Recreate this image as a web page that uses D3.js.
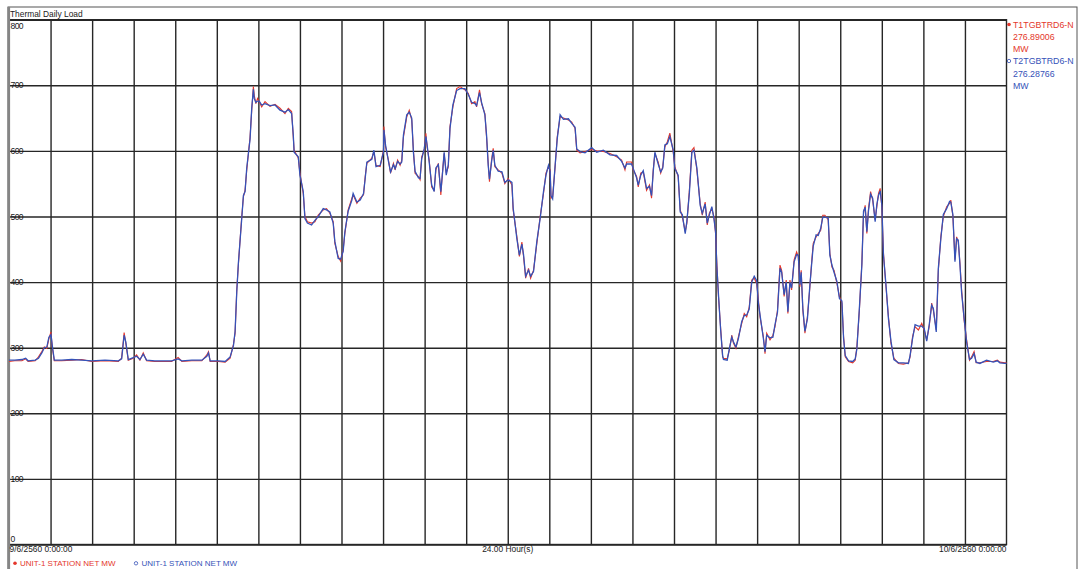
<!DOCTYPE html>
<html>
<head>
<meta charset="utf-8">
<script src="https://cdn.jsdelivr.net/npm/d3@7"></script>
<style>
  body { margin: 0; background: #fff; }
  svg { display: block; font-family: "Liberation Sans", Arial, sans-serif; }
</style>
</head>
<body>
<svg id="chart" width="1078" height="569"></svg>
<script>
// time of each sample, hours after 9/6/2560 0:00:00
var hours = [
  0.00,0.14,0.31,0.40,0.46,0.63,0.71,0.79,0.85,0.91,
  0.96,1.01,1.04,1.09,1.27,1.51,1.75,1.99,2.31,2.63,
  2.71,2.77,2.81,2.87,2.99,3.07,3.15,3.23,3.31,3.51,
  3.91,4.07,4.16,4.40,4.64,4.76,4.80,4.84,5.04,5.20,
  5.32,5.40,5.44,5.48,5.52,5.60,5.64,5.68,5.72,5.80,
  5.84,5.88,5.90,5.94,5.98,6.02,6.08,6.16,6.28,6.40,
  6.52,6.64,6.72,6.80,6.84,6.86,6.96,7.00,7.08,7.12,
  7.18,7.28,7.36,7.44,7.56,7.64,7.72,7.80,7.84,7.92,
  7.98,8.04,8.08,8.16,8.25,8.28,8.37,8.45,8.53,8.57,
  8.61,8.73,8.78,8.83,8.93,9.01,9.02,9.06,9.13,9.18,
  9.25,9.29,9.35,9.41,9.45,9.49,9.57,9.63,9.69,9.73,
  9.77,9.85,9.89,9.93,9.99,10.03,10.06,10.11,10.17,10.23,
  10.27,10.33,10.39,10.44,10.47,10.52,10.57,10.61,10.68,10.77,
  10.85,10.97,11.05,11.13,11.21,11.25,11.32,11.37,11.45,11.49,
  11.53,11.56,11.61,11.65,11.69,11.77,11.86,11.93,12.01,12.10,
  12.13,12.22,12.28,12.34,12.38,12.43,12.50,12.55,12.62,12.70,
  12.78,12.86,12.92,12.98,13.02,13.04,13.08,13.14,13.19,13.26,
  13.34,13.46,13.54,13.62,13.66,13.74,13.86,14.02,14.14,14.30,
  14.46,14.62,14.74,14.82,14.86,14.98,15.02,15.10,15.14,15.20,
  15.26,15.34,15.41,15.46,15.50,15.54,15.62,15.68,15.73,15.78,
  15.84,15.90,15.98,16.02,16.10,16.15,16.20,16.27,16.31,16.37,
  16.43,16.48,16.55,16.63,16.68,16.75,16.80,16.85,16.91,16.96,
  17.00,17.03,17.07,17.12,17.17,17.19,17.28,17.33,17.39,17.43,
  17.49,17.55,17.63,17.69,17.75,17.81,17.87,17.93,17.99,18.03,
  18.07,18.15,18.19,18.23,18.31,18.38,18.43,18.49,18.55,18.59,
  18.65,18.70,18.74,18.79,18.83,18.89,18.95,18.99,19.03,19.06,
  19.10,19.15,19.21,19.27,19.31,19.35,19.42,19.47,19.53,19.58,
  19.63,19.71,19.75,19.80,19.85,19.92,19.98,20.04,20.08,20.12,
  20.20,20.30,20.36,20.40,20.46,20.52,20.56,20.60,20.64,20.68,
  20.73,20.78,20.84,20.88,20.92,20.96,21.00,21.04,21.10,21.16,
  21.22,21.29,21.40,21.52,21.64,21.68,21.74,21.80,21.88,21.96,
  22.02,22.08,22.14,22.20,22.24,22.31,22.36,22.42,22.48,22.56,
  22.63,22.66,22.71,22.76,22.80,22.84,22.88,22.92,22.98,23.04,
  23.11,23.16,23.22,23.27,23.36,23.52,23.68,23.78,23.84,23.96,
  24.00
];

// T1TGBTRD6-N (red)
var t1 = [
  279,280,280,283,279,280,286,294,301,299,
  314,324,301,280,280,281,282,279,280,279,
  284,323,307,281,284,289,281,292,280,279,
  279,285,279,280,280,289,294,279,279,278,
  284,305,322,388,428,500,530,540,571,621,
  662,698,685,672,680,675,667,675,668,671,
  665,657,665,660,621,601,589,566,535,500,
  492,490,492,502,510,512,505,492,459,439,
  432,449,474,510,528,533,520,528,533,561,
  581,589,599,578,576,601,637,606,586,566,
  581,571,586,578,586,621,652,662,647,601,
  566,561,556,591,601,627,606,586,545,540,
  571,581,533,576,596,566,576,637,667,695,
  698,693,688,672,675,667,693,672,657,621,
  581,553,586,604,576,571,566,550,558,548,
  510,469,439,461,439,406,421,406,418,459,
  500,535,566,576,571,528,530,576,621,652,
  650,647,644,634,601,597,599,602,600,599,
  596,591,586,571,583,583,571,561,545,566,
  568,540,548,528,571,596,583,566,576,606,
  614,627,599,576,561,510,500,477,490,540,
  601,605,571,520,502,522,487,505,512,500,
  474,430,378,332,286,284,283,296,319,307,
  299,317,337,352,347,362,403,406,398,373,
  347,317,291,322,312,319,332,357,426,418,
  378,403,352,403,388,434,446,439,393,418,
  357,322,347,393,429,459,469,474,479,502,
  502,495,444,423,418,398,378,368,317,286,
  279,277,281,301,357,429,505,517,474,512,
  538,525,495,515,535,543,515,444,393,347,
  307,284,276,275,277,286,317,332,327,337,
  327,312,332,368,357,327,418,469,500,515,
  520,525,500,434,469,461,429,388,342,312,
  281,286,294,277,277,279,279,281,278,277,
  277
];

// T2TGBTRD6-N (blue)
var t2 = [
  281,281,282,284,280,281,284,292,300,301,
  316,320,304,281,281,282,281,280,281,280,
  283,319,309,282,285,287,282,290,281,280,
  280,283,280,281,281,287,292,280,280,279,
  286,303,325,385,430,497,532,538,574,618,
  665,694,680,674,676,676,670,672,669,670,
  662,659,663,657,624,598,591,563,538,497,
  490,487,494,500,512,510,507,490,462,436,
  435,447,476,508,525,535,522,525,535,558,
  583,587,601,576,578,598,632,609,584,568,
  579,573,584,580,583,624,655,659,650,598,
  569,559,558,588,603,622,609,583,548,538,
  574,579,538,573,598,563,579,634,670,692,
  695,695,686,674,672,669,689,674,655,624,
  578,557,583,601,578,569,568,552,556,552,
  513,466,441,458,442,409,418,409,416,462,
  497,538,563,578,569,532,527,578,618,655,
  648,649,642,636,603,599,597,605,598,601,
  594,593,584,574,580,580,573,559,548,563,
  570,543,546,532,568,598,580,568,574,609,
  611,622,602,573,563,507,503,474,493,536,
  598,601,574,517,505,519,490,502,515,497,
  477,425,381,329,288,282,281,298,316,309,
  301,314,340,349,350,359,400,409,402,368,
  350,314,294,319,315,316,335,354,421,415,
  381,400,355,400,391,431,442,441,396,415,
  360,325,344,396,426,455,472,471,482,499,
  499,498,441,426,415,401,375,371,314,288,
  280,279,283,298,360,426,508,514,477,509,
  534,528,492,518,532,539,518,441,396,344,
  310,282,277,277,276,288,314,335,333,333,
  329,310,335,365,360,324,421,466,503,512,
  523,522,503,431,466,464,426,384,345,309,
  282,284,291,278,276,281,278,280,277,276,
  276
];

var yTicks = [0, 100, 200, 300, 400, 500, 600, 700, 800];
var xGrid = [1,2,3,4,5,6,7,8,9,10,11,12,13,14,15,16,17,18,19,20,21,22,23];
var seriesNames = ['T1TGBTRD6-N', 'T2TGBTRD6-N'];
var lastValues = ['276.89006', '276.28766'];
var bottomNames = ['UNIT-1 STATION NET MW', 'UNIT-1 STATION NET MW'];
var xLabels = ['9/6/2560 0:00:00', '24.00 Hour(s)', '10/6/2560 0:00:00'];

var red = '#e4372b', blue = '#3552b8', grid = '#262626', ink = '#1a1a1a';

var svg = d3.select('#chart');
var x = d3.scaleLinear().domain([0, 24]).range([9, 1006.5]);
var y = d3.scaleLinear().domain([0, 800]).range([544.5, 19.7]);

svg.append('rect').attr('width', 1078).attr('height', 569).attr('fill', '#fff');

// outer frame
svg.append('rect')
  .attr('x', 8).attr('y', 7).attr('width', 1069).attr('height', 570)
  .attr('fill', 'none').attr('stroke', '#555').attr('stroke-width', 1);

svg.append('text')
  .attr('x', 10).attr('y', 17)
  .attr('font-size', 8.4).attr('fill', ink)
  .text('Thermal Daily Load');

// vertical grid
svg.append('g')
  .attr('transform', 'translate(0,' + y(0) + ')')
  .call(d3.axisBottom(x).tickValues(xGrid).tickSize(-(y(0) - y(800))).tickFormat(''))
  .call(function (g) { g.select('.domain').remove(); })
  .selectAll('line').attr('stroke', grid).attr('stroke-width', 1.4);

// horizontal grid
svg.append('g')
  .attr('transform', 'translate(' + x(0) + ',0)')
  .call(d3.axisLeft(y).tickValues(yTicks).tickSize(-(x(24) - x(0))).tickFormat(''))
  .call(function (g) { g.select('.domain').remove(); })
  .selectAll('line').attr('stroke', grid).attr('stroke-width', 1.4);

// plot border
svg.append('rect')
  .attr('x', x(0)).attr('y', y(800))
  .attr('width', x(24) - x(0)).attr('height', y(0) - y(800))
  .attr('fill', 'none').attr('stroke', grid).attr('stroke-width', 1.4);

svg.append('line')
  .attr('x1', 8.8).attr('x2', 8.8).attr('y1', 7).attr('y2', 569)
  .attr('stroke', '#858585').attr('stroke-width', 2.6);

// y labels sit inside the plot, on the grid lines
svg.append('g').selectAll('text')
  .data(yTicks)
  .enter()
  .append('text')
  .attr('x', 10.5)
  .attr('y', function (d) {
    if (d === 800) return y(d) + 9.5;
    if (d === 0) return y(d) - 3;
    return y(d) + 3;
  })
  .attr('font-size', 8.6).attr('letter-spacing', -0.6)
  .attr('fill', ink)
  .text(function (d) { return d; });

var line = d3.line()
  .x(function (d, i) { return x(hours[i]); })
  .y(function (d) { return y(d); });

svg.append('path').datum(t1)
  .attr('d', line).attr('fill', 'none')
  .attr('stroke', red).attr('stroke-width', 1.1);

svg.append('path').datum(t2)
  .attr('d', line).attr('fill', 'none')
  .attr('stroke', blue).attr('stroke-width', 1.3);

// x labels
svg.append('text').attr('x', 9.5).attr('y', 552)
  .attr('font-size', 8.4).attr('fill', ink).text(xLabels[0]);
svg.append('text').attr('x', x(12)).attr('y', 552).attr('text-anchor', 'middle')
  .attr('font-size', 8.4).attr('fill', ink).text(xLabels[1]);
svg.append('text').attr('x', x(24)).attr('y', 552).attr('text-anchor', 'end')
  .attr('font-size', 8.4).attr('fill', ink).text(xLabels[2]);

// bottom legend
svg.append('circle').attr('cx', 15).attr('cy', 563.3).attr('r', 1.8).attr('fill', red);
svg.append('text').attr('x', 20).attr('y', 566.2)
  .attr('font-size', 8).attr('fill', red).text(bottomNames[0]);
svg.append('circle').attr('cx', 136).attr('cy', 563.3).attr('r', 1.7)
  .attr('fill', 'none').attr('stroke', blue).attr('stroke-width', 0.8);
svg.append('text').attr('x', 141.5).attr('y', 566.2)
  .attr('font-size', 8).attr('fill', blue).text(bottomNames[1]);

// right legend
var colors = [red, blue];
var legendTop = [24.5, 61];
seriesNames.forEach(function (name, i) {
  var g = svg.append('g').attr('fill', colors[i]).attr('font-size', 8.8);
  if (i === 0) {
    g.append('circle').attr('cx', 1009).attr('cy', legendTop[i]).attr('r', 1.8);
  } else {
    g.append('circle').attr('cx', 1009).attr('cy', legendTop[i]).attr('r', 1.7)
      .attr('fill', 'none').attr('stroke', colors[i]).attr('stroke-width', 0.8);
  }
  g.append('text').attr('x', 1013).attr('y', legendTop[i] + 3).text(name);
  g.append('text').attr('x', 1013).attr('y', legendTop[i] + 15.5).text(lastValues[i]);
  g.append('text').attr('x', 1013).attr('y', legendTop[i] + 27.5).text('MW');
});
</script>
</body>
</html>
